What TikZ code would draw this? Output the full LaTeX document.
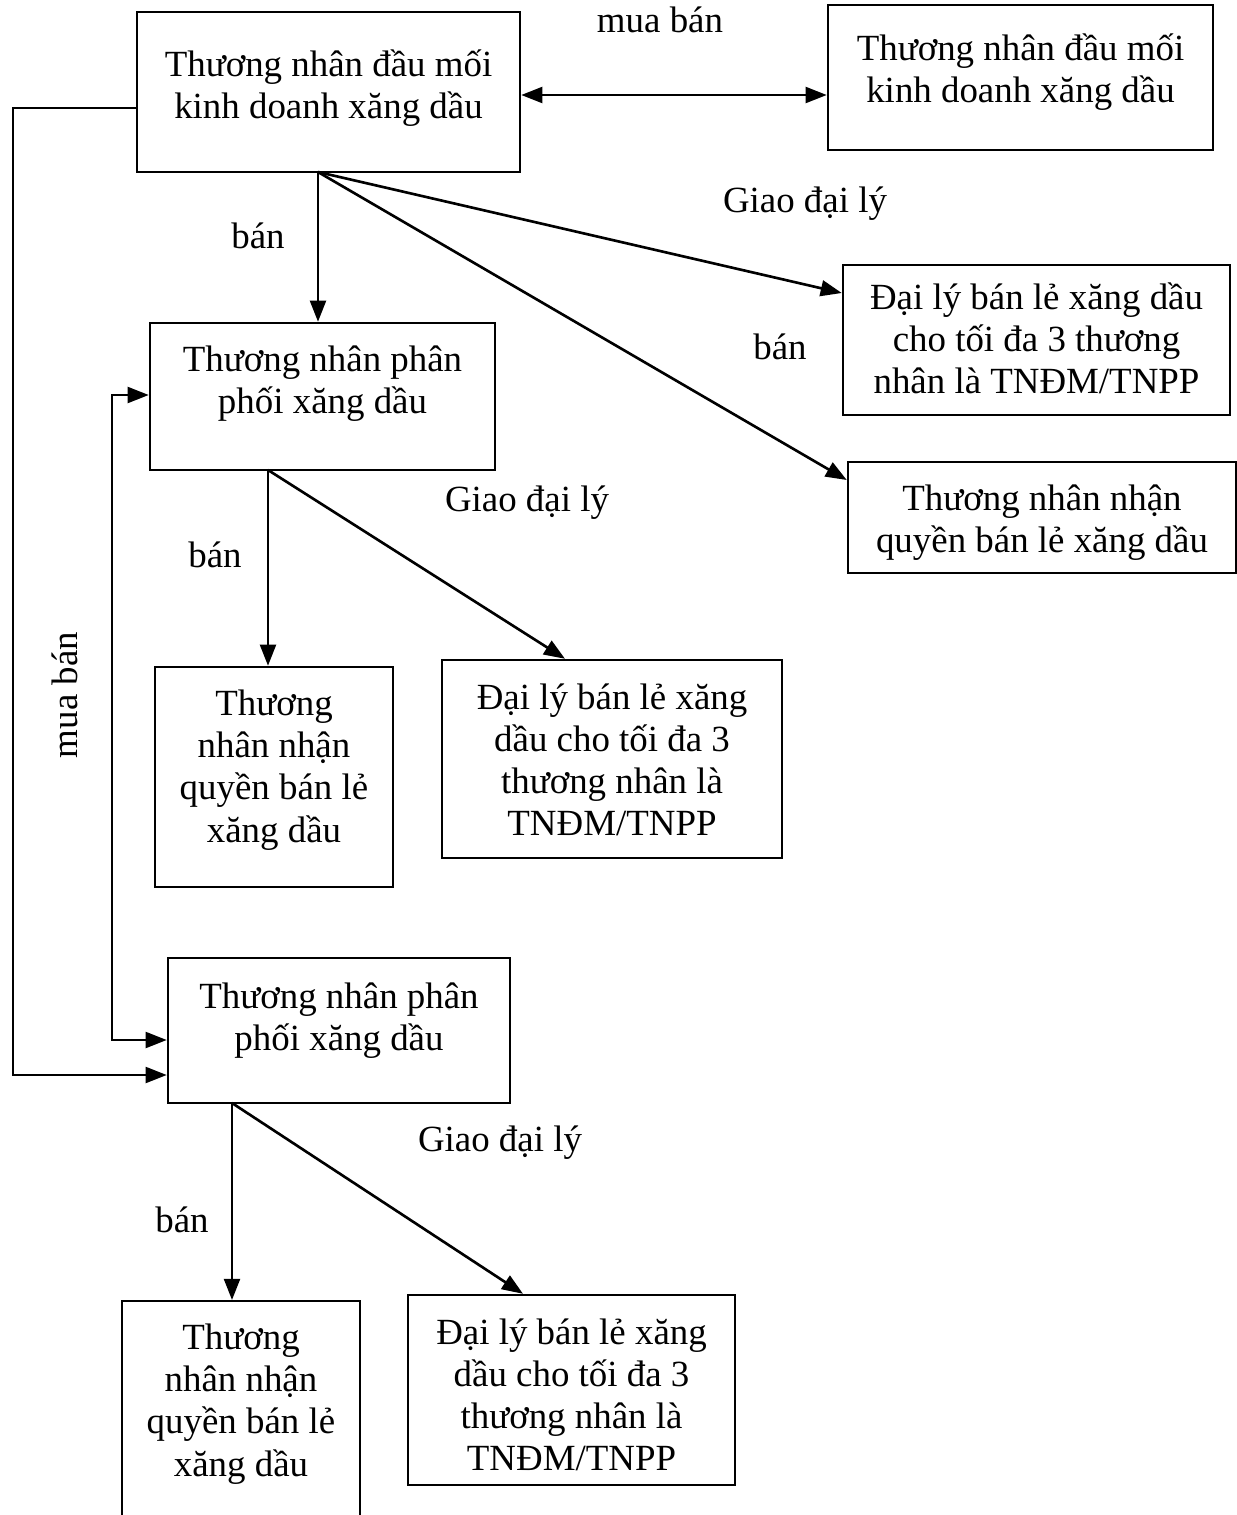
\documentclass[tikz,border=0pt]{standalone}
\usepackage{fontspec}
\setmainfont{Liberation Serif}
\usetikzlibrary{arrows.meta}
\begin{document}
\begin{tikzpicture}[x=0.02cm,y=-0.02cm,
  every node/.style={font=\fontsize{21}{24}\selectfont},
  box/.style={draw,line width=1.4pt,inner sep=0pt},
  txt/.style={align=center,inner sep=0pt},
  lbl/.style={inner sep=0pt},
  conn/.style={line width=1.5pt,-{Triangle[length=12pt,width=9pt]}},
  dconn/.style={line width=1.5pt,{Triangle[length=12pt,width=9pt]}-{Triangle[length=12pt,width=9pt]}}]
\useasboundingbox[fill=white] (0,0) rectangle (1237,1515);
% boxes
\node[box,minimum width=383*0.02cm,minimum height=160*0.02cm] (A) at (328.5,92) {};
\node[txt] (At) at (328.5,88) {Thương nhân đầu mối\\kinh doanh xăng dầu};
\node[box,minimum width=385*0.02cm,minimum height=145*0.02cm] (B) at (1020.5,77.5) {};
\node[txt] (Bt) at (1020.5,72.5) {Thương nhân đầu mối\\kinh doanh xăng dầu};
\node[box,minimum width=387*0.02cm,minimum height=150*0.02cm] (C) at (1036.5,340) {};
\node[txt] (Ct) at (1036.5,338) {Đại lý bán lẻ xăng dầu\\cho tối đa 3 thương\\nhân là TNĐM/TNPP};
\node[box,minimum width=388*0.02cm,minimum height=111*0.02cm] (D) at (1042,517.5) {};
\node[txt] (Dt) at (1042,522.5) {Thương nhân nhận\\quyền bán lẻ xăng dầu};
\node[box,minimum width=345*0.02cm,minimum height=147*0.02cm] (E) at (322.5,396.5) {};
\node[txt] (Et) at (322.5,383.5) {Thương nhân phân\\phối xăng dầu};
\node[box,minimum width=238*0.02cm,minimum height=220*0.02cm] (F) at (274,777) {};
\node[txt] (Ft) at (274,770) {Thương\\nhân nhận\\quyền bán lẻ\\xăng dầu};
\node[box,minimum width=340*0.02cm,minimum height=198*0.02cm] (G) at (612,759) {};
\node[txt] (Gt) at (612,760) {Đại lý bán lẻ xăng\\dầu cho tối đa 3\\thương nhân là\\TNĐM/TNPP};
\node[box,minimum width=342*0.02cm,minimum height=145*0.02cm] (H) at (339,1030.5) {};
\node[txt] (Ht) at (339,1020.5) {Thương nhân phân\\phối xăng dầu};
\node[box,minimum width=238*0.02cm,minimum height=240*0.02cm,anchor=north] (I) at (241,1300) {};
\node[txt] (It) at (241,1404) {Thương\\nhân nhận\\quyền bán lẻ\\xăng dầu};
\node[box,minimum width=327*0.02cm,minimum height=190*0.02cm] (J) at (571.5,1390) {};
\node[txt] (Jt) at (571.5,1395) {Đại lý bán lẻ xăng\\dầu cho tối đa 3\\thương nhân là\\TNĐM/TNPP};
% labels
\node[lbl] (l1) at (660,20) {mua bán};
\node[lbl] (l2) at (258,236) {bán};
\node[lbl] (l3) at (805,204) {Giao đại lý};
\node[lbl] (l4) at (780,347) {bán};
\node[lbl] (l5) at (527,503) {Giao đại lý};
\node[lbl] (l6) at (215,555) {bán};
\node[lbl,rotate=90] (l7) at (65,695) {mua bán};
\node[lbl] (l8) at (500,1143) {Giao đại lý};
\node[lbl] (l9) at (182,1220) {bán};
% origins
\coordinate (Ao) at (318,172);
\coordinate (Eo) at (268,470);
\coordinate (Ho) at (232,1103);
% connectors
\draw[dconn] (A.east |- 0,95) -- (B.west |- 0,95);
\draw[conn] (Ao) -- (Ao |- E.north);
\draw[conn] (Ao) -- (C.west |- 0,293);
\draw[conn] (Ao) -- (D.west |- 0,480);
\draw[conn] (A.west |- 0,108) -- (13,108) -- (13,1075) -- (H.west |- 0,1075);
\draw[dconn] (E.west |- 0,395) -- (112,395) -- (112,1040) -- (H.west |- 0,1040);
\draw[conn] (Eo) -- (Eo |- F.north);
\draw[conn] (Eo) -- (565,0 |- G.north);
\draw[conn] (Ho) -- (Ho |- I.north);
\draw[conn] (Ho) -- (523,0 |- J.north);
\end{tikzpicture}
\end{document}
